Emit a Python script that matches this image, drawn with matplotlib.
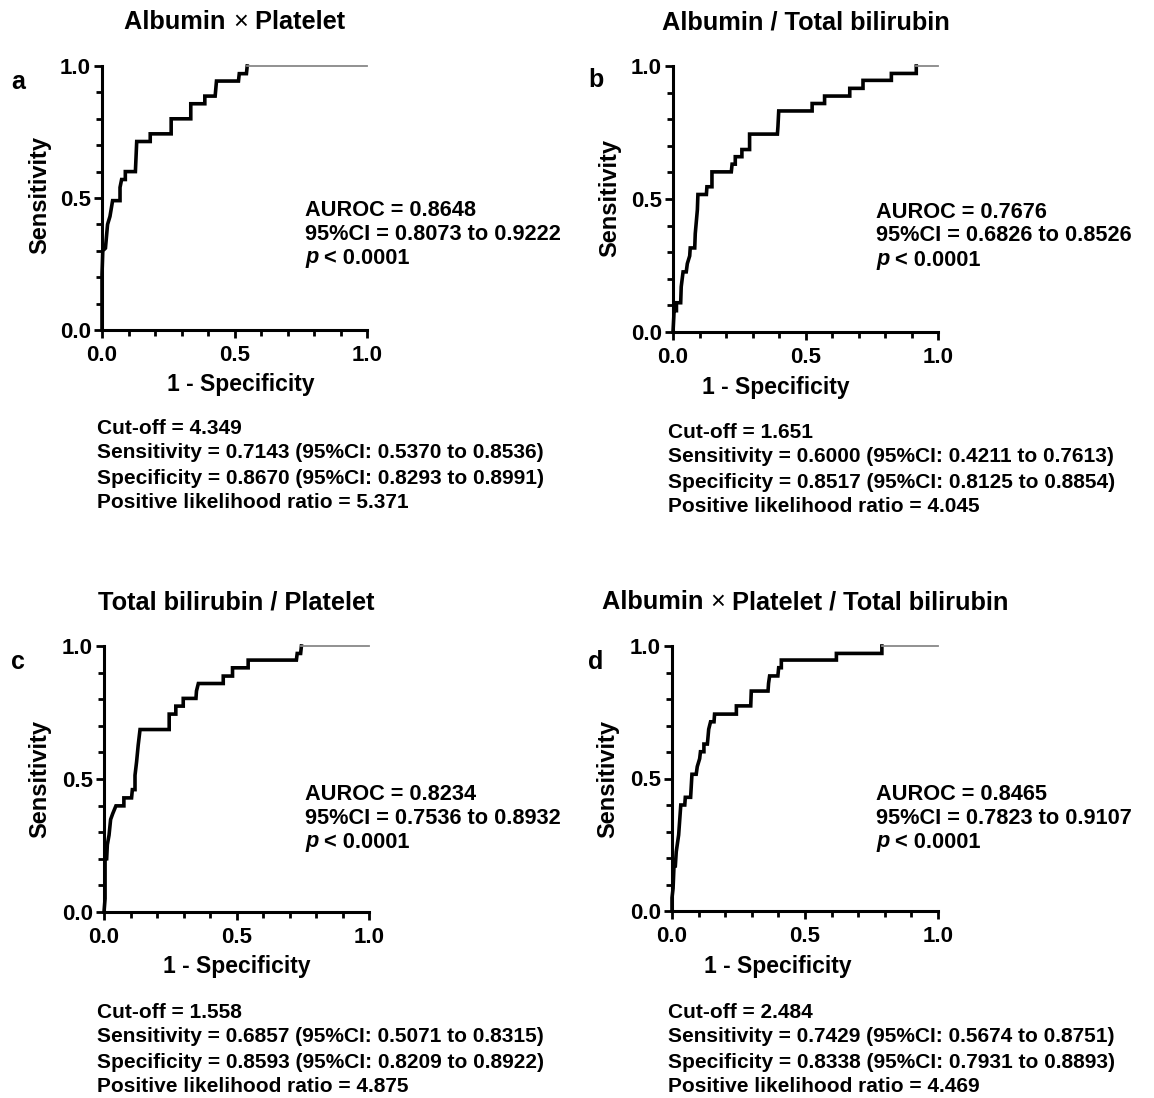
import matplotlib
matplotlib.use("Agg")
import matplotlib.pyplot as plt
from matplotlib.ticker import MultipleLocator, FixedLocator

plt.rcParams['font.family'] = ['Liberation Sans', 'DejaVu Sans']

# ---------------- data ----------------
titles = ["Albumin × Platelet", "Albumin / Total bilirubin",
          "Total bilirubin / Platelet", "Albumin × Platelet / Total bilirubin"]
letters = ["a", "b", "c", "d"]

fpr_a = [0, 0, 0.003, 0.013, 0.021, 0.030, 0.035, 0.040, 0.068, 0.068, 0.074, 0.088, 0.088,
         0.126, 0.131, 0.182, 0.182, 0.261, 0.261, 0.335, 0.335, 0.388, 0.388, 0.427, 0.432,
         0.515, 0.518, 0.545, 0.548]
tpr_a = [0, 0.21, 0.30, 0.31, 0.40, 0.43, 0.46, 0.49, 0.49, 0.54, 0.57, 0.57, 0.60,
         0.60, 0.714, 0.714, 0.743, 0.743, 0.80, 0.80, 0.857, 0.857, 0.886, 0.886, 0.943,
         0.943, 0.971, 0.971, 1.0]

fpr_b = [0, 0.003, 0.004, 0.013, 0.013, 0.029, 0.031, 0.038, 0.050, 0.054, 0.063, 0.065, 0.082,
         0.084, 0.092, 0.094, 0.126, 0.128, 0.147, 0.147, 0.220, 0.223, 0.235, 0.235, 0.260,
         0.260, 0.289, 0.289, 0.394, 0.396, 0.399, 0.525, 0.525, 0.572, 0.572, 0.667, 0.667,
         0.717, 0.717, 0.824, 0.824, 0.918, 0.918]
tpr_b = [0, 0.057, 0.08, 0.08, 0.11, 0.11, 0.17, 0.226, 0.226, 0.257, 0.286, 0.316, 0.316,
         0.37, 0.46, 0.517, 0.517, 0.546, 0.546, 0.602, 0.602, 0.631, 0.631, 0.659, 0.659,
         0.686, 0.686, 0.744, 0.744, 0.772, 0.831, 0.831, 0.859, 0.859, 0.887, 0.887, 0.916,
         0.916, 0.946, 0.946, 0.972, 0.972, 1.0]

fpr_c = [0, 0.004, 0.004, 0.010, 0.0126, 0.019, 0.025, 0.033, 0.045, 0.075, 0.075, 0.104, 0.107,
         0.117, 0.117, 0.123, 0.129, 0.136, 0.246, 0.246, 0.271, 0.271, 0.299, 0.299, 0.347,
         0.349, 0.356, 0.450, 0.450, 0.485, 0.485, 0.544, 0.544, 0.726, 0.729, 0.742, 0.745]
tpr_c = [0, 0.05, 0.20, 0.20, 0.253, 0.289, 0.348, 0.370, 0.399, 0.399, 0.429, 0.429, 0.46,
         0.46, 0.514, 0.565, 0.627, 0.686, 0.686, 0.744, 0.744, 0.774, 0.774, 0.803, 0.803,
         0.831, 0.859, 0.859, 0.887, 0.887, 0.918, 0.918, 0.947, 0.947, 0.972, 0.972, 1.0]

fpr_d = [0, 0.0, 0.004, 0.0075, 0.0125, 0.016, 0.025, 0.033, 0.048, 0.050, 0.070, 0.075, 0.091,
         0.095, 0.104, 0.107, 0.120, 0.120, 0.133, 0.138, 0.145, 0.158, 0.160, 0.242, 0.242,
         0.296, 0.298, 0.361, 0.363, 0.367, 0.398, 0.401, 0.411, 0.411, 0.618, 0.618, 0.789, 0.789]
tpr_d = [0, 0.05, 0.085, 0.17, 0.17, 0.224, 0.287, 0.40, 0.40, 0.429, 0.429, 0.516, 0.516,
         0.545, 0.575, 0.601, 0.601, 0.63, 0.63, 0.686, 0.714, 0.714, 0.743, 0.743, 0.774,
         0.774, 0.83, 0.83, 0.859, 0.887, 0.887, 0.918, 0.918, 0.947, 0.947, 0.972, 0.972, 1.0]

fprs = [fpr_a, fpr_b, fpr_c, fpr_d]
tprs = [tpr_a, tpr_b, tpr_c, tpr_d]

auroc = ["0.8648", "0.7676", "0.8234", "0.8465"]
auroc_ci = ["0.8073 to 0.9222", "0.6826 to 0.8526", "0.7536 to 0.8932", "0.7823 to 0.9107"]
cutoff = ["4.349", "1.651", "1.558", "2.484"]
sens = ["0.7143 (95%CI: 0.5370 to 0.8536)", "0.6000 (95%CI: 0.4211 to 0.7613)",
        "0.6857 (95%CI: 0.5071 to 0.8315)", "0.7429 (95%CI: 0.5674 to 0.8751)"]
spec = ["0.8670 (95%CI: 0.8293 to 0.8991)", "0.8517 (95%CI: 0.8125 to 0.8854)",
        "0.8593 (95%CI: 0.8209 to 0.8922)", "0.8338 (95%CI: 0.7931 to 0.8893)"]
plr = ["5.371", "4.045", "4.875", "4.469"]

xticks = [0.0, 0.5, 1.0]
xticklabels = ["0.0", "0.5", "1.0"]

# ---------------- layout (pixels) ----------------
W, H = 1154, 1098
fig = plt.figure(figsize=(W / 100, H / 100), dpi=100)

def fx(px):
    return px / W

def fy(py):
    return 1 - py / H

axes_px = [(102, 367, 66, 330), (673, 938, 66, 332), (104, 369, 646, 912), (672, 938, 646, 911)]
title_y = [22, 22, 602, 602]
letter_pos = [(18, 82), (596, 80), (18, 662), (596, 662)]
ylab_pos = [(40, 195), (610, 198), (40, 779), (608, 779)]
xlab_pos = [(241, 385), (776, 387), (237, 967), (778, 967)]
auroc_pos = [(305, 210), (876, 212), (305, 794), (876, 794)]
bottom_pos = [(97, 428), (668, 432), (97, 1012), (668, 1012)]

BOLD = dict(fontweight='bold', color='black')
TFS = 18.3

fig.canvas.draw()
rend = fig.canvas.get_renderer()

for i in range(4):
    l, r, t, b = axes_px[i]
    ax = fig.add_axes([fx(l), fy(b), (r - l) / W, (b - t) / H])
    x = fprs[i]
    y = tprs[i]
    ax.plot(x, y, color='black', lw=2.6, solid_joinstyle='miter', clip_on=False, zorder=3)
    ax.plot([x[-1], 1.0], [y[-1], 1.0], color='#888888', lw=1.3, clip_on=False, zorder=3)
    ax.set_xlim(0, 1)
    ax.set_ylim(0, 1)
    for s in ['top', 'right']:
        ax.spines[s].set_visible(False)
    for s in ['left', 'bottom']:
        ax.spines[s].set_linewidth(2.2)
    ax.xaxis.set_major_locator(FixedLocator(xticks))
    ax.yaxis.set_major_locator(FixedLocator(xticks))
    ax.set_xticklabels(xticklabels)
    ax.set_yticklabels(xticklabels)
    ax.xaxis.set_minor_locator(MultipleLocator(0.1))
    ax.yaxis.set_minor_locator(MultipleLocator(0.1))
    ax.tick_params(which='major', direction='out', length=6, width=2, labelsize=16, pad=2)
    ax.tick_params(axis='x', which='major', pad=5)
    ax.tick_params(which='minor', direction='out', length=4, width=2)
    for lab in ax.get_xticklabels() + ax.get_yticklabels():
        lab.set_fontweight('bold')

    # title (centered over the axes) with non-bold ×
    tx = (l + r) / 2
    ty = title_y[i]
    parts = titles[i].split("×")
    if len(parts) == 1:
        fig.text(fx(tx), fy(ty), titles[i], ha='center', va='center', fontsize=TFS, **BOLD)
    else:
        t0 = fig.text(0, fy(ty), parts[0], ha='left', va='center', fontsize=TFS, **BOLD)
        t1 = fig.text(0, fy(ty), "×", ha='left', va='center', fontsize=TFS, color='black')
        t2 = fig.text(0, fy(ty), parts[1], ha='left', va='center', fontsize=TFS, **BOLD)
        w0 = t0.get_window_extent(rend).width
        w1 = t1.get_window_extent(rend).width
        w2 = t2.get_window_extent(rend).width
        start = tx - (w0 + w1 + w2) / 2
        t0.set_x(fx(start))
        t1.set_x(fx(start + w0))
        t2.set_x(fx(start + w0 + w1))

    lx, ly = letter_pos[i]
    fig.text(fx(lx), fy(ly), letters[i], ha='center', va='center', fontsize=18, **BOLD)

    yx, yy = ylab_pos[i]
    fig.text(fx(yx), fy(yy), "Sensitivity", ha='center', va='center', rotation=90, fontsize=17, **BOLD)
    xx, xy = xlab_pos[i]
    fig.text(fx(xx), fy(xy), "1 - Specificity", ha='center', va='center', fontsize=16.5, **BOLD)

    axp, ayp = auroc_pos[i]
    fig.text(fx(axp), fy(ayp), "AUROC = " + auroc[i], ha='left', va='center', fontsize=15.7, **BOLD)
    fig.text(fx(axp), fy(ayp + 24), "95%CI = " + auroc_ci[i], ha='left', va='center', fontsize=15.7, **BOLD)
    pt = fig.text(fx(axp), fy(ayp + 48), "p", ha='left', va='center', fontsize=15.7,
                  fontstyle='italic', **BOLD)
    ax.annotate(" < 0.0001", xy=(1, 0), xycoords=pt, ha='left', va='bottom',
                fontsize=15.7, annotation_clip=False, **BOLD)

    bx, by = bottom_pos[i]
    lines = ["Cut-off = " + cutoff[i], "Sensitivity = " + sens[i],
             "Specificity = " + spec[i], "Positive likelihood ratio = " + plr[i]]
    for k, s in enumerate(lines):
        fig.text(fx(bx), fy(by + 25 * k), s, ha='left', va='center', fontsize=15, **BOLD)

fig.savefig("out.png", dpi=100, facecolor='white')
